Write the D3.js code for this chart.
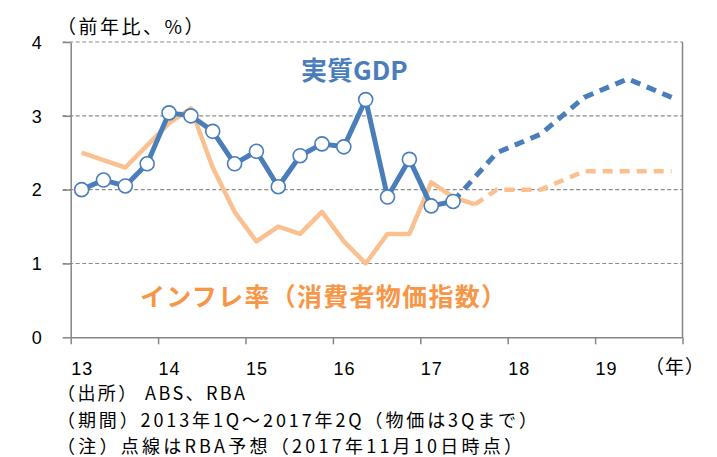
<!DOCTYPE html>
<html>
<head>
<meta charset="utf-8">
<script src="https://cdn.jsdelivr.net/npm/d3@7"></script>
<style>
  body { margin: 0; background: #fff; }
  svg { display: block; font-family: "Noto Sans CJK JP", "Noto Sans", sans-serif; }
</style>
</head>
<body>
<div id="chart"></div>
<script>
// data, quarterly from 2013Q1
const startYear = 2013;
const gdpActual = [2.0, 2.13, 2.05, 2.35, 3.04, 3.0, 2.79, 2.35, 2.52, 2.04, 2.46, 2.62, 2.58, 3.22, 1.9, 2.41, 1.78, 1.84];
const cpiActual = [2.5, 2.4, 2.3, 2.6, 2.9, 3.1, 2.3, 1.7, 1.3, 1.5, 1.4, 1.7, 1.3, 1.0, 1.4, 1.4, 2.1, 1.9, 1.8];
// RBA forecast (quarter index counted from 2013Q1)
const forecastQuarters = [19, 21, 23, 25, 27];
const gdpForecast = [2.5, 2.75, 3.25, 3.5, 3.25];
const cpiForecast = [2.0, 2.0, 2.25, 2.25, 2.25];
const yearTicks = [2013, 2014, 2015, 2016, 2017, 2018, 2019, 2020];
const yTicks = [0, 1, 2, 3, 4];
const notes = [
    '（出所） ABS、RBA',
    '（期間）2013年1Q～2017年2Q（物価は3Qまで）',
    '（注）点線はRBA予想（2017年11月10日時点）'
];

const width = 717;
const height = 457;
const margin = {top: 42, right: 34.5, bottom: 119.7, left: 70.7};
const chartWidth = width - margin.left - margin.right;
const chartHeight = height - margin.top - margin.bottom;

const blue = '#4a7ebb';
const orange = '#fac090';
const axisGray = '#868686';

const svg = d3.select('#chart')
  .append('svg')
    .attr('width', width)
    .attr('height', height);

const xScale = d3.scaleLinear()
    .domain([startYear, 2020])
    .range([0, chartWidth]);

const yScale = d3.scaleLinear()
    .domain([0, 4])
    .range([chartHeight, 0]);

const qx = (i) => xScale(startYear + (i + 0.5) / 4);

const chart = svg.append('g')
    .attr('transform', `translate(${margin.left},${margin.top})`);

// grid lines
chart.append('g')
    .selectAll('line')
    .data(yTicks.filter(d => d > 0))
    .join('line')
      .attr('x1', -8)
      .attr('x2', chartWidth)
      .attr('y1', d => yScale(d))
      .attr('y2', d => yScale(d))
      .attr('stroke', '#8c8c8c')
      .attr('stroke-width', 1.2)
      .attr('stroke-dasharray', '4,2.5');

// right border
chart.append('line')
    .attr('x1', chartWidth).attr('x2', chartWidth)
    .attr('y1', 0).attr('y2', chartHeight)
    .attr('stroke', axisGray)
    .attr('stroke-width', 1.5);

// axes
const xAxis = d3.axisBottom(xScale)
    .tickValues(yearTicks)
    .tickSize(7)
    .tickSizeOuter(0)
    .tickFormat(d => d === 2020 ? '' : String(d % 100));

const yAxis = d3.axisLeft(yScale)
    .tickValues(yTicks)
    .tickSize(8)
    .tickSizeOuter(0)
    .tickFormat(d3.format('d'));

const xg = chart.append('g')
    .attr('transform', `translate(0,${chartHeight})`)
    .call(xAxis);
xg.selectAll('text')
    .attr('text-anchor', 'start')
    .attr('y', 38)
    .attr('dy', 0)
    .attr('font-size', 18)
    .attr('letter-spacing', 1)
    .attr('fill', '#000');

const yg = chart.append('g')
    .call(yAxis);
yg.selectAll('text')
    .attr('x', -29)
    .attr('dy', '0.35em')
    .attr('font-size', 18)
    .attr('fill', '#000');

[xg, yg].forEach(g => {
    g.select('.domain').attr('stroke', axisGray).attr('stroke-width', 1.5);
    g.selectAll('.tick line').attr('stroke', axisGray).attr('stroke-width', 1.5);
});

// lines
const line = d3.line()
    .x(d => qx(d.q))
    .y(d => yScale(d.v));

const gdpPoints = gdpActual.map((v, q) => ({q, v}));
const cpiPoints = cpiActual.map((v, q) => ({q, v}));
const gdpFc = [gdpPoints[gdpPoints.length - 1]]
    .concat(forecastQuarters.map((q, i) => ({q, v: gdpForecast[i]})));
const cpiFc = [cpiPoints[cpiPoints.length - 1]]
    .concat(forecastQuarters.map((q, i) => ({q, v: cpiForecast[i]})));

chart.append('path')
    .datum(cpiPoints)
    .attr('d', line)
    .attr('fill', 'none')
    .attr('stroke', orange)
    .attr('stroke-width', 4.5)
    .attr('stroke-linejoin', 'round');

chart.append('path')
    .datum(cpiFc)
    .attr('d', line)
    .attr('fill', 'none')
    .attr('stroke', orange)
    .attr('stroke-width', 4.5)
    .attr('stroke-dasharray', '10,7');

chart.append('path')
    .datum(gdpFc)
    .attr('d', line)
    .attr('fill', 'none')
    .attr('stroke', blue)
    .attr('stroke-width', 5)
    .attr('stroke-dasharray', '10,7');

chart.append('path')
    .datum(gdpPoints)
    .attr('d', line)
    .attr('fill', 'none')
    .attr('stroke', blue)
    .attr('stroke-width', 5)
    .attr('stroke-linejoin', 'round');

chart.append('g')
    .selectAll('circle')
    .data(gdpPoints)
    .join('circle')
      .attr('cx', d => qx(d.q))
      .attr('cy', d => yScale(d.v))
      .attr('r', 7)
      .attr('fill', '#fff')
      .attr('stroke', blue)
      .attr('stroke-width', 1.6);

// series labels
svg.append('text')
    .attr('x', 301)
    .attr('y', 80)
    .attr('font-size', 26)
    .attr('font-weight', 'bold')
    .attr('fill', blue)
    .text('実質GDP');

svg.append('text')
    .attr('x', 140)
    .attr('y', 306)
    .attr('font-size', 25)
    .attr('font-weight', 'bold')
    .attr('fill', '#f79646')
    .attr('textLength', 366)
    .attr('lengthAdjust', 'spacing')
    .text('インフレ率（消費者物価指数）');

// axis titles
svg.append('text')
    .attr('x', 57)
    .attr('y', 34)
    .attr('font-size', 19)
    .attr('letter-spacing', 2.5)
    .text('（前年比、%）');

svg.append('text')
    .attr('x', 645)
    .attr('y', 374)
    .attr('font-size', 19)
    .attr('letter-spacing', 1)
    .text('（年）');

// notes, stretched to the width they take in the source
const noteLengths = [188, 480, 465];
svg.append('g')
    .selectAll('text')
    .data(notes)
    .join('text')
      .attr('x', 57)
      .attr('y', (d, i) => 400 + i * 26.5)
      .attr('font-size', 18)
      .attr('textLength', (d, i) => noteLengths[i])
      .attr('lengthAdjust', 'spacing')
      .text(d => d);
</script>
</body>
</html>
